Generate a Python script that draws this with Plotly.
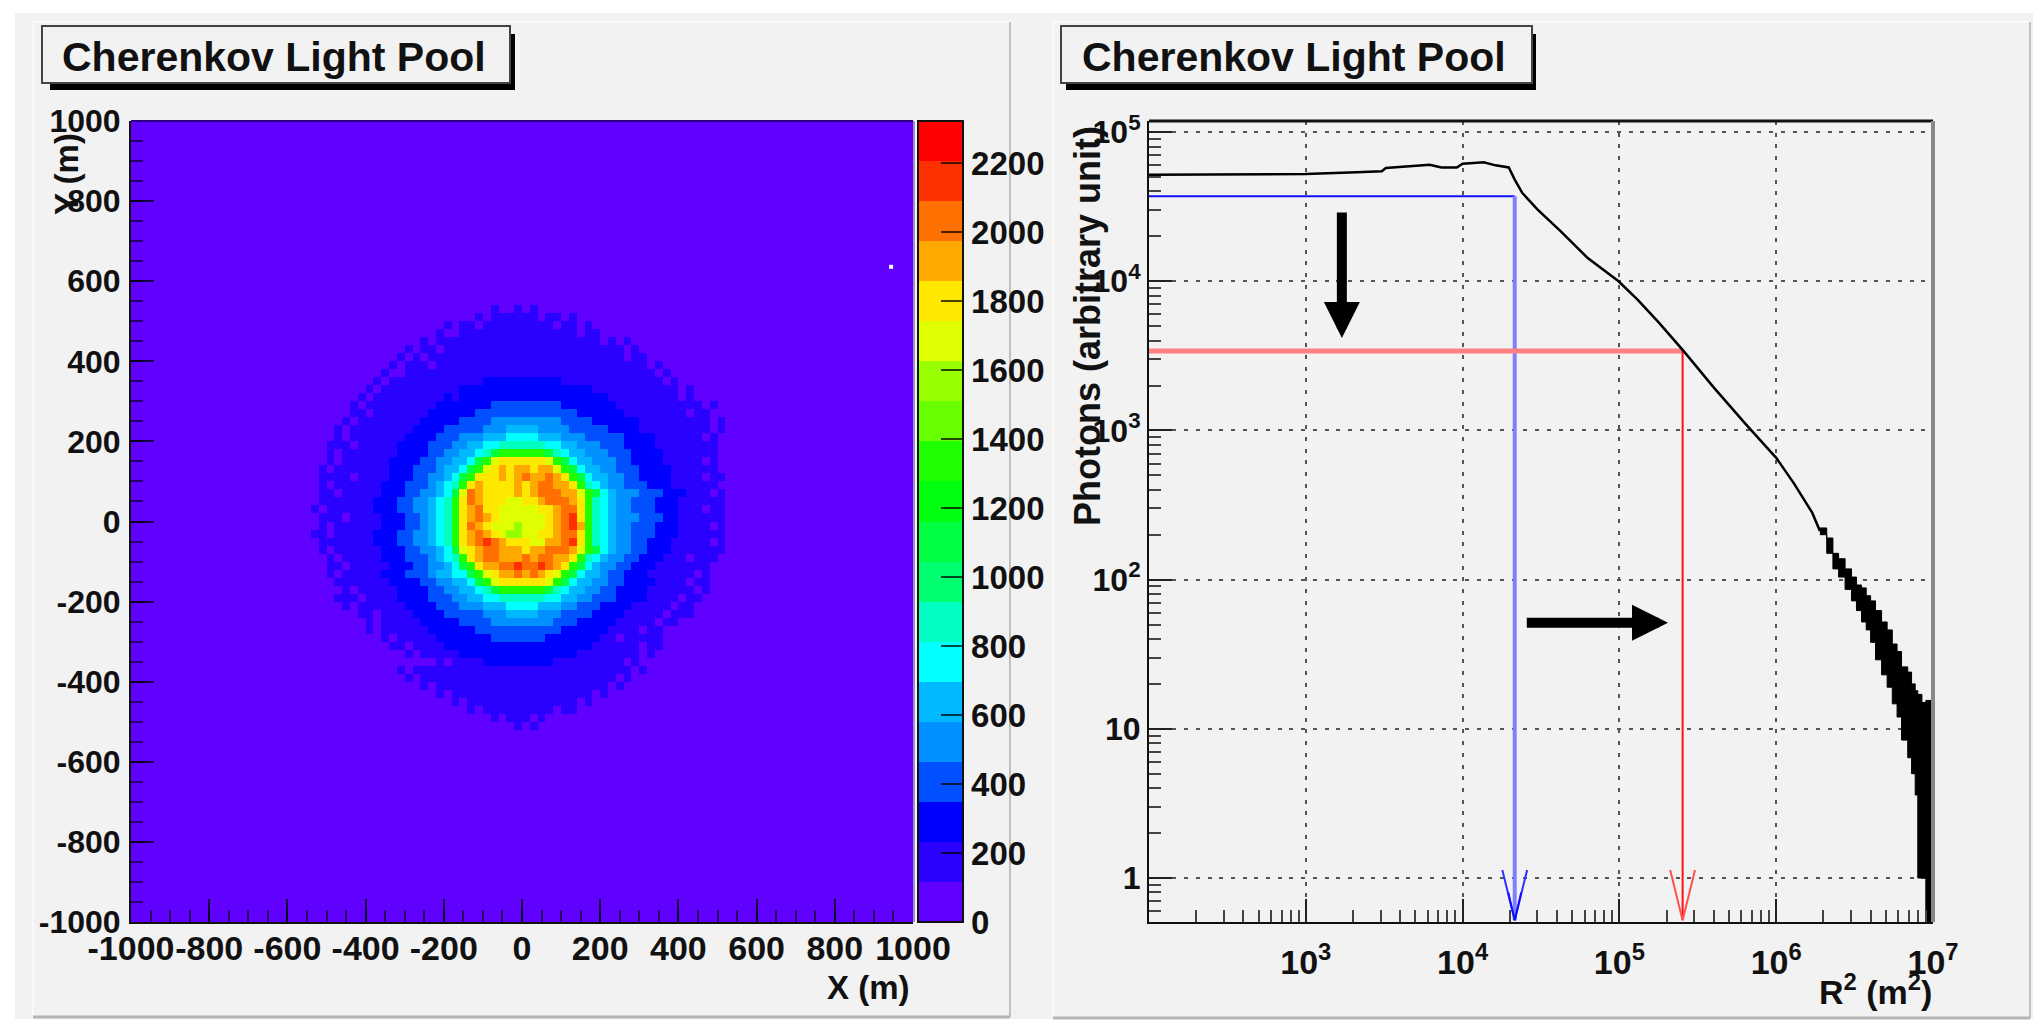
import plotly.graph_objects as go

W, H = 2040, 1021
FONT = "Liberation Sans"

TITLE = "Cherenkov Light Pool"
BAND_COLORS = ["#6000ff", "#2a00ff", "#0000ff", "#0050ff", "#0090ff", "#00b8ff", "#00ffff", "#00ffc0",
               "#00ff70", "#00ff40", "#00ff10", "#20ff00", "#68ff00", "#98ff00", "#e0ff00", "#ffe800",
               "#ffa800", "#ff7000", "#ff3000", "#ff0000"]
Z_MAX = 2322
CELL = 20
AXIS_MIN, AXIS_MAX = -1000, 1000

# Light-pool map, one row per 20 m from y=+530 to y=-530.
# Each character is a colour band number (base 36); "|" marks x=0, outer zeros omitted.
POOL_ROWS = [
    "1001|01",
    "101111|1101101",
    "1011011111|111101101",
    "10011111111|1111111011",
    "1011111111111|11111111110101",
    "101101111111111|111111111111101",
    "1010111111111111|1111111111111011",
    "10111011111111111|111111111111111101",
    "100111111111111111|1111111111111111101",
    "1011111111111122222|22222111111111111101",
    "10111111111122222222|2222222221111111111101",
    "101111111112122222222|2222222222211111111101",
    "1011111111122222223333|3333322222221111111111101",
    "1101111111222222333333|333333322222211111111011",
    "10111111112222233334444|44444333322222211111111101",
    "1011111111222233333444 55|55444433333222211111111101",
    "1011111112222333444555 66|66555444333332222 11111101",
    "1110111112222333445566777|77766554443332222 11111111",
    "101111111222233445567 9bbb|bbb976554443332222 1111111",
    "10111111222233445569befff|fffeb9655444332222 1111101",
    "101111111222333455 69befgfg|gfggeb9655443332222 111111",
    "11110111122233445 69bfffgfg|hgghgfb96554433222 2 1111011",
    "1011111122233345 67bfgffffg|fghhggfb7654433322 2 111111",
    "110111112223344 569ehgffffg|fghhhggeb965444333 222 11101",
    "1111111222334456 7bfhgfffee|ffghhhgfb76544333 222 111111",
    "101111112223344567bfghffeee|eeffghhfb76544333 222 111011",
    "11101111222334567bfghgfeee|eeefghifb76544433 322 111111",
    "10111111222334567bfhgfeeed|eeefghigb76544333 222 111101",
    "1101111122233445 67bfghgfedd|eeffghhfb76544333 222 111111",
    "111111122233445 67bfghihgff|feegghifb7654433 222 1111101",
    "101111112223344 569efghhggg|fgghhhgeb96544332 22 1111111",
    "10111112223334 567bfghhggg|hghhggfb76544332 221110111",
    "1101111122233 44569bfgghhi|hhihgfb96544332 221111111",
    "101111122233345 5669befggh|ghgfeb96554 33222 11111101",
    "111111122223344 5569befff|fffeb96554433 2222 1111011",
    "10111112222334455 679bbb|bbb9765544332222 11111101",
    "11101111222233344 5566777|7776655443332222 1111011",
    "101111112222333444555 66|665554433322221 1111011",
    "11011112222333334 4455|55444333322221 11110111",
    "1011111222223333 4444|4444333222221 1111011",
    "10111111222222333333|33333222222 1111011",
    "10111112222222 3333|3332222222 11011111",
    "110111122222222 22|222222222 111111011",
    "101111122222222|2222222 1111111101",
    "10111122222|2222 11111111101",
    "1011111111111111|1111111111111101",
    "101111111111111|11111111111101",
    "1011111111111|1111111111101",
    "10111111111|11111111101",
    "101111111|111111101",
    "1011111|1111011",
    "1011|101",
    "1|01",
    "0|0",
]
SPECK_X, SPECK_Y = [944], [636]

X_TICKS = [-1000, -800, -600, -400, -200, 0, 200, 400, 600, 800, 1000]
X_LABELS = ["-1000", "-800", "-600", "-400", "-200", "0", "200", "400", "600", "800", "1000"]
Y_TICKS = X_TICKS
Y_LABELS = ["-1000", "-800", "-600", "-400", "-200", "0", "200", "400", "600", "800", "1000"]
CB_TICKS = [0, 200, 400, 600, 800, 1000, 1200, 1400, 1600, 1800, 2000, 2200]

R2_VALUES = [100, 1000, 2100, 3050, 3240, 6170, 7330, 9180, 10000, 13650, 16200, 19700, 21500, 24000, 30100,
             42300, 62800, 98800, 131000, 178000, 257000, 398000, 631000, 1000000, 1300000, 1500000, 1700000, 1900000]
PHOTONS = [51800, 52300, 53700, 54600, 57400, 60400, 57900, 57900, 61300, 62700, 59800, 57900, 48000, 39100, 30200,
           21600, 14300, 10000, 7500, 5300, 3400, 1950, 1120, 655, 440, 348, 280, 212]
NOISE_R2 = [1900000, 2100000, 2300000, 2500000, 2750000, 3020000, 3250000, 3500000,
            3750000, 4000000, 4300000, 4700000, 5100000, 5500000, 5900000, 6300000, 6900000, 7300000, 7700000,
            8000000, 8500000, 9000000, 10000000]
NOISE_LOW = [200, 150, 118, 104, 86, 72, 62, 52, 46, 38, 29, 23, 19, 14.7, 12, 8.4, 6.4, 5.0, 3.6,
             1.0, 1.0, 0.5, 0.5]
NOISE_HIGH = [222, 190, 150, 138, 118, 104, 92, 88, 78, 72, 62, 52, 46, 37, 33, 26, 24, 20, 18,
              17, 15, 15.5, 14.7]

X2_TICKS = [1e3, 1e4, 1e5, 1e6, 1e7]
X2_LABELS = ["10<sup>3</sup>", "10<sup>4</sup>", "10<sup>5</sup>", "10<sup>6</sup>", "10<sup>7</sup>"]
Y2_TICKS = [1, 10, 100, 1e3, 1e4, 1e5]
Y2_LABELS = ["1", "10", "10<sup>2</sup>", "10<sup>3</sup>", "10<sup>4</sup>", "10<sup>5</sup>"]

BLUE_R2, BLUE_PHOTONS = 21500, 37100
RED_R2, RED_PHOTONS = 253000, 3410
LINE_START_R2, ARROW_TIP = 93, 0.52
BARB_TOP, BARB_MID, BARB_SPREAD, BARB_INNER = 1.13, 0.8, 1.2, 1.1

n_cells = (AXIS_MAX - AXIS_MIN) // CELL
half = n_cells // 2
z = [[0.5 * Z_MAX / 20] * n_cells for _ in range(n_cells)]
x_centers = [AXIS_MIN + CELL * (i + 0.5) for i in range(n_cells)]
y_centers = x_centers
for r, row in enumerate(POOL_ROWS):
    y_index = half + 26 - r
    left, right = row.replace(" ", "").split("|")
    for k, c in enumerate(reversed(left)):
        z[y_index][half - 1 - k] = (int(c, 36) + 0.5) * Z_MAX / 20
    for k, c in enumerate(right):
        z[y_index][half + k] = (int(c, 36) + 0.5) * Z_MAX / 20

steps = []
for i, c in enumerate(BAND_COLORS):
    steps += [[i / 20, c], [(i + 1) / 20, c]]


def fx(p):
    return p / W


def fy(p):
    return 1 - p / H


def minor_log(lo, hi):
    out = []
    for d in range(lo, hi):
        out += [m * 10 ** d for m in range(2, 10)]
    return out


fig = go.Figure()
fig.add_trace(go.Heatmap(
    x=x_centers, y=y_centers, z=z, zmin=0, zmax=Z_MAX, colorscale=steps, hoverinfo="skip",
    colorbar=dict(x=fx(918), xanchor="left", y=fy(121), yanchor="top", lenmode="pixels", len=801,
                  thicknessmode="pixels", thickness=45, xpad=0, ypad=0, outlinecolor="#111", outlinewidth=2,
                  ticks="inside", ticklen=23, tickwidth=2, tickcolor="rgba(0,0,0,0.72)", tickmode="array",
                  tickvals=CB_TICKS, ticktext=[str(t) for t in CB_TICKS],
                  tickfont=dict(family=FONT, size=33, color="#111", weight="bold")),
))
fig.add_trace(go.Scatter(x=SPECK_X, y=SPECK_Y, mode="markers", hoverinfo="skip",
                         marker=dict(color="white", size=4, symbol="square")))

LOG = dict(xaxis="x2", yaxis="y2", hoverinfo="skip")
fig.add_trace(go.Scatter(x=[LINE_START_R2, BLUE_R2], y=[BLUE_PHOTONS, BLUE_PHOTONS], mode="lines", cliponaxis=False,
                         line=dict(color="#1010ff", width=2), **LOG))
fig.add_trace(go.Scatter(x=[BLUE_R2, BLUE_R2], y=[BLUE_PHOTONS, ARROW_TIP], mode="lines",
                         line=dict(color="#8080ff", width=4), **LOG))
fig.add_trace(go.Scatter(x=[BLUE_R2 / BARB_SPREAD, BLUE_R2, BLUE_R2 * BARB_SPREAD], y=[BARB_TOP, ARROW_TIP, BARB_TOP],
                         mode="lines", line=dict(color="#3030ff", width=2), **LOG))
fig.add_trace(go.Scatter(x=[BLUE_R2 / BARB_INNER, BLUE_R2, BLUE_R2 * BARB_INNER], y=[BARB_MID, ARROW_TIP, BARB_MID],
                         mode="lines", line=dict(color="#1010ff", width=2), **LOG))
fig.add_trace(go.Scatter(x=[LINE_START_R2, RED_R2], y=[RED_PHOTONS, RED_PHOTONS], mode="lines", cliponaxis=False,
                         line=dict(color="#ff8080", width=5), **LOG))
fig.add_trace(go.Scatter(x=[RED_R2, RED_R2], y=[RED_PHOTONS, ARROW_TIP], mode="lines",
                         line=dict(color="#ff1010", width=2), **LOG))
fig.add_trace(go.Scatter(x=[RED_R2 / BARB_SPREAD, RED_R2, RED_R2 * BARB_SPREAD], y=[BARB_TOP, ARROW_TIP, BARB_TOP],
                         mode="lines", line=dict(color="#ff5050", width=2), **LOG))
fig.add_trace(go.Scatter(x=R2_VALUES, y=PHOTONS, mode="lines", line=dict(color="black", width=2.5), **LOG))
fig.add_trace(go.Scatter(x=NOISE_R2, y=NOISE_LOW, mode="lines", line=dict(color="black", width=1, shape="hv"), **LOG))
fig.add_trace(go.Scatter(x=NOISE_R2, y=NOISE_HIGH, mode="lines", line=dict(color="black", width=1, shape="hv"),
                         fill="tonexty", fillcolor="black", **LOG))

TICKFONT = dict(family=FONT, size=32, color="#111", weight="bold")
XFONT = dict(family=FONT, size=34, color="#111", weight="bold")
LIN = dict(showline=True, linecolor="#111", linewidth=2, ticks="inside", ticklen=23, tickwidth=2,
           tickcolor="rgba(0,0,0,0.72)", showgrid=False, zeroline=False, tickangle=0,
           tickmode="array", automargin=False,
           minor=dict(ticks="inside", ticklen=12, tickwidth=2, tickcolor="rgba(0,0,0,0.6)", dtick=50, showgrid=False))
GRID = dict(showgrid=True, gridcolor="#555", gridwidth=2, griddash="4px,7.7px")
LOGAX = dict(type="log", showline=True, linecolor="#111", linewidth=2, ticks="inside", ticklen=23, tickwidth=2,
             tickcolor="#222", zeroline=False, tickangle=0, tickmode="array", automargin=False,
             **GRID)

fig.update_layout(
    template="none",
    width=W, height=H, autosize=False, margin=dict(l=0, r=0, t=0, b=0, pad=0, autoexpand=False), showlegend=False,
    paper_bgcolor="white", plot_bgcolor="rgba(0,0,0,0)",
    xaxis=dict(domain=[fx(131), fx(913)], range=[AXIS_MIN, AXIS_MAX], tickvals=X_TICKS, ticktext=X_LABELS,
               anchor="y", ticklabelstandoff=-5, tickfont=XFONT, **LIN),
    yaxis=dict(domain=[fy(922), fy(121)], range=[AXIS_MIN, AXIS_MAX], tickvals=Y_TICKS, ticktext=Y_LABELS,
               anchor="x", ticklabelstandoff=2, tickfont=TICKFONT, **LIN),
    xaxis2=dict(domain=[fx(1149), fx(1933)], range=[2, 7], tickvals=X2_TICKS, ticktext=X2_LABELS, anchor="y2",
                ticklabelstandoff=9, tickfont=XFONT,
                minor=dict(tickmode="array", tickvals=minor_log(2, 7), ticks="inside", ticklen=12, tickwidth=2,
                           tickcolor="#444", showgrid=False), **LOGAX),
    yaxis2=dict(domain=[fy(922), fy(121)], range=[-0.295, 5.074], tickvals=Y2_TICKS, ticktext=Y2_LABELS, anchor="x2",
                tickfont=TICKFONT,
                minor=dict(tickmode="array", tickvals=minor_log(-1, 5), ticks="inside", ticklen=12, tickwidth=2,
                           tickcolor="#444", showgrid=False), **LOGAX),
)


def rect(x0, y0, x1, y1, fill=None, line=None, lw=0, layer="below"):
    return dict(type="rect", xref="paper", yref="paper", x0=fx(x0), x1=fx(x1), y0=fy(y0), y1=fy(y1), layer=layer,
                fillcolor=fill or "rgba(0,0,0,0)", line=dict(color=line or "rgba(0,0,0,0)", width=lw))


def seg(x0, y0, x1, y1, color, lw, layer="below"):
    return dict(type="line", xref="paper", yref="paper", x0=fx(x0), x1=fx(x1), y0=fy(y0), y1=fy(y1), layer=layer,
                line=dict(color=color, width=lw))


shapes = [
    rect(15, 13, 2033, 1019, fill="#f2f2f2"),
    seg(33, 22, 1010, 22, "#fafafa", 2), seg(33, 22, 33, 1017, "#fafafa", 2),
    seg(1010, 22, 1010, 1017, "#c0c0c0", 2), seg(33, 1017, 1010, 1017, "#b4b4b4", 3),
    seg(1053, 22, 2030, 22, "#fafafa", 2), seg(1053, 22, 1053, 1018, "#fafafa", 2),
    seg(2030, 22, 2030, 1018, "#c0c0c0", 2), seg(1053, 1018, 2030, 1018, "#b4b4b4", 3),
    rect(50, 34, 515, 90, fill="black"),
    rect(42, 26, 510, 83, fill="#f2f2f2", line="#444", lw=2),
    rect(1066, 34, 1536, 90, fill="black"),
    rect(1061, 26, 1532, 83, fill="#f2f2f2", line="#444", lw=2),
    seg(1149, 121, 1933, 121, "#111", 3, layer="above"),
    seg(1933, 121, 1933, 922, "#888", 4, layer="above"),
    seg(131, 121, 913, 121, "#2a0080", 2, layer="above"),
    seg(914, 121, 914, 922, "#a090c0", 2, layer="above"),
]


def label(text, x, y, xanchor, yanchor, size, angle=0, weight="bold"):
    return dict(text=text, xref="paper", yref="paper", x=fx(x), y=fy(y), xanchor=xanchor, yanchor=yanchor,
                showarrow=False, textangle=angle, xshift=0, yshift=0,
                font=dict(family=FONT, size=size, color="#111", weight=weight))


def big_arrow(x_from, y_from, x_to, y_to):
    return dict(text="", x=x_to, y=y_to, ax=x_from, ay=y_from, xref="x2", yref="y2", axref="x2", ayref="y2",
                showarrow=True, arrowhead=2, arrowsize=0.72, arrowwidth=10, arrowcolor="black", standoff=0)


annotations = [
    label(TITLE, 60, 57, "left", "middle", 41),
    label(TITLE, 1080, 57, "left", "middle", 41),
    label("X (m)", 912, 987, "right", "middle", 33),
    label("Y (m)", 66, 131, "center", "top", 33, angle=-90),
    label("R<sup>2</sup> (m<sup>2</sup>)", 1934, 989, "right", "middle", 34),
    label("Photons (arbitrary unit)", 1087, 124, "center", "top", 36, angle=-90),
    big_arrow(3.23, 4.47, 3.23, 3.62),
    big_arrow(4.40, 1.71, 5.31, 1.71),
]

fig.update_layout(shapes=shapes, annotations=annotations)
fig.write_html("out.html", config={"displayModeBar": False},
               post_script="document.body.style.margin='0';document.body.style.overflow='hidden';")
